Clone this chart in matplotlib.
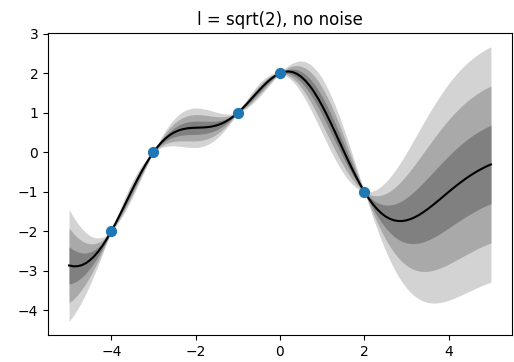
import numpy as np
import matplotlib
matplotlib.use("Agg")
import matplotlib.pyplot as plt

# Observed points
x_obs = [-4, -3, -1, 0, 2]
y_obs = [-2, 0, 1, 2, -1]

# Posterior mean and standard deviation read at x = -5.0, -4.9, ..., 5.0
mean = [-2.866, -2.888, -2.886, -2.859, -2.807, -2.729, -2.627, -2.501, -2.353, -2.185,
        -2.000, -1.801, -1.592, -1.377, -1.159, -0.942, -0.730, -0.527, -0.336, -0.159,
        0.000, 0.141, 0.262, 0.362, 0.444, 0.506, 0.552, 0.583, 0.603, 0.614,
        0.619, 0.622, 0.627, 0.636, 0.653, 0.679, 0.717, 0.768, 0.832, 0.910,
        1.000, 1.101, 1.210, 1.326, 1.444, 1.561, 1.673, 1.777, 1.868, 1.944,
        2.000, 2.034, 2.043, 2.027, 1.983, 1.911, 1.812, 1.687, 1.538, 1.366,
        1.175, 0.967, 0.748, 0.519, 0.286, 0.053, -0.178, -0.402, -0.615, -0.816,
        -1.000, -1.166, -1.313, -1.438, -1.542, -1.624, -1.684, -1.723, -1.742, -1.742,
        -1.724, -1.691, -1.644, -1.586, -1.517, -1.441, -1.359, -1.272, -1.184, -1.094,
        -1.004, -0.917, -0.831, -0.750, -0.672, -0.599, -0.531, -0.468, -0.410, -0.357, -0.310]
std = [0.471, 0.418, 0.363, 0.309, 0.256, 0.204, 0.155, 0.110, 0.068, 0.032,
       0.000, 0.026, 0.045, 0.059, 0.066, 0.068, 0.063, 0.053, 0.039, 0.021,
       0.000, 0.023, 0.047, 0.071, 0.094, 0.115, 0.133, 0.148, 0.159, 0.165,
       0.167, 0.164, 0.156, 0.145, 0.129, 0.110, 0.089, 0.067, 0.044, 0.021,
       0.000, 0.019, 0.035, 0.047, 0.054, 0.057, 0.055, 0.048, 0.037, 0.020,
       0.000, 0.024, 0.050, 0.077, 0.105, 0.133, 0.159, 0.183, 0.203, 0.220,
       0.231, 0.236, 0.235, 0.228, 0.214, 0.193, 0.166, 0.132, 0.093, 0.049,
       0.000, 0.053, 0.109, 0.167, 0.226, 0.286, 0.346, 0.405, 0.463, 0.518,
       0.571, 0.621, 0.668, 0.711, 0.751, 0.787, 0.819, 0.848, 0.873, 0.895,
       0.914, 0.930, 0.943, 0.955, 0.964, 0.972, 0.978, 0.983, 0.987, 0.990, 0.993]
x_ticks = [-4, -2, 0, 2, 4]
y_ticks = [-4, -3, -2, -1, 0, 1, 2, 3]
title = "l = sqrt(2), no noise"

xg = np.linspace(-5, 5, len(mean))
m = np.array(mean)
s = np.array(std)

fig = plt.figure(figsize=(5.14, 3.62), dpi=100)
ax = fig.add_axes([48/514, 1-335/362, (512-48)/514, (335-33)/362])
ax.fill_between(xg, m - 3*s, m + 3*s, color='lightgray', linewidth=0)
ax.fill_between(xg, m - 2*s, m + 2*s, color='darkgray', linewidth=0)
ax.fill_between(xg, m - s, m + s, color='gray', linewidth=0)
ax.plot(xg, m, color='black', linewidth=1.5)
ax.scatter(x_obs, y_obs, s=50, color='#1f77b4', zorder=3)
ax.set_title(title, fontsize=12)
ax.set_xticks(x_ticks)
ax.set_yticks(y_ticks)
fig.savefig("out.png", dpi=100)
